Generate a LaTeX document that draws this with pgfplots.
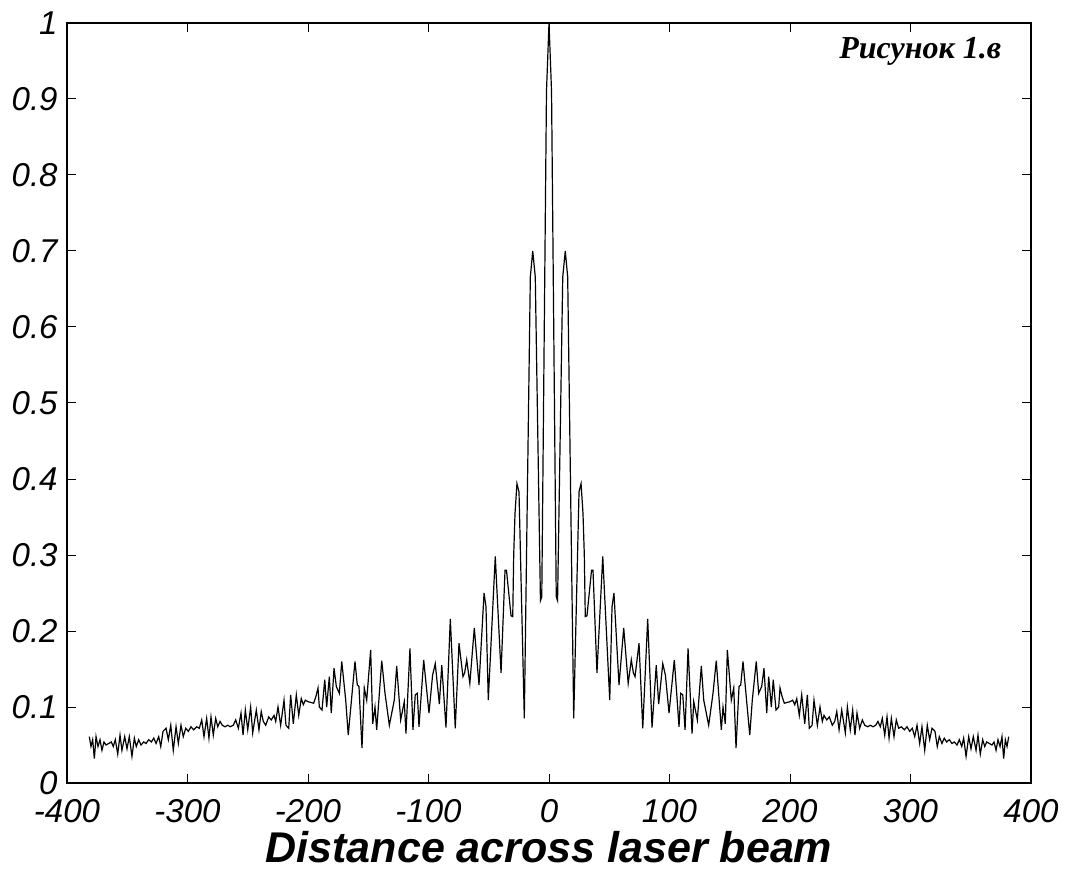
\documentclass[border=0pt]{standalone}
\usepackage{fontspec}
\setmainfont{Liberation Sans}
\newfontfamily\serifbi{Liberation Serif}
\usepackage{pgfplots}
\pgfplotsset{compat=1.18}
\begin{document}
\begin{tikzpicture}
\begin{axis}[
  scale only axis,
  width=482pt, height=380pt,
  xmin=-400, xmax=400, ymin=0, ymax=1,
  xtick={-400,-300,-200,-100,0,100,200,300,400},
  xticklabels={-400,-300,-200,-100,0,100,200,300,400},
  ytick={0,0.1,0.2,0.3,0.4,0.5,0.6,0.7,0.8,0.9,1},
  yticklabels={0,0.1,0.2,0.3,0.4,0.5,0.6,0.7,0.8,0.9,1},
  xtick pos=both, ytick pos=both,
  tick align=inside,
  major tick length=4.5pt,
  every tick/.style={black, line width=0.5pt},
  axis line style={black, line width=1pt},
  tick label style={font=\fontsize{16.5}{19}\selectfont\itshape},
  xticklabel style={inner sep=0pt, anchor=north, yshift=-8pt},
  yticklabel style={inner sep=0pt, anchor=east, xshift=-4.5pt},
  xlabel={Distance across laser beam},
  xlabel style={font=\fontsize{21.5}{26}\selectfont\bfseries\itshape, inner sep=0pt, at={(axis description cs:0.5,0)}, anchor=base, yshift=-39.5pt},
]
\coordinate (bl) at (rel axis cs:0,0);
\coordinate (tr) at (rel axis cs:1,1);
\addplot[black, line width=0.6pt] coordinates {
(-381.5,0.061) (-380.1,0.048) (-378.7,0.057) (-377.3,0.032) (-375.9,0.061) (-374.3,0.048)
(-372.6,0.057) (-371.0,0.043) (-369.3,0.054) (-367.6,0.050) (-365.4,0.052) (-363.2,0.054)
(-361.6,0.048) (-359.9,0.057) (-357.9,0.038) (-356.0,0.063) (-354.4,0.043) (-352.1,0.061)
(-350.2,0.045) (-348.3,0.061) (-346.1,0.035) (-344.1,0.059) (-342.5,0.048) (-340.5,0.057)
(-338.6,0.050) (-336.3,0.054) (-334.4,0.052) (-332.2,0.057) (-330.0,0.054) (-328.0,0.059)
(-326.1,0.052) (-323.9,0.061) (-322.2,0.048) (-320.3,0.068) (-317.8,0.072) (-315.9,0.057)
(-313.9,0.076) (-311.8,0.043) (-309.5,0.074) (-307.6,0.052) (-305.4,0.076) (-303.5,0.061)
(-301.5,0.072) (-299.3,0.068) (-297.1,0.074) (-294.9,0.070) (-292.4,0.074) (-290.2,0.072)
(-288.2,0.083) (-286.3,0.061) (-284.1,0.085) (-282.2,0.059) (-280.5,0.087) (-278.6,0.063)
(-276.6,0.085) (-274.9,0.074) (-273.0,0.081) (-271.1,0.076) (-268.9,0.074) (-266.6,0.076)
(-264.5,0.074) (-262.0,0.076) (-260.0,0.083) (-257.8,0.072) (-255.6,0.092) (-253.9,0.063)
(-252.0,0.096) (-250.0,0.070) (-247.6,0.100) (-245.9,0.066) (-242.9,0.096) (-240.7,0.070)
(-238.8,0.094) (-237.1,0.081) (-235.1,0.076) (-232.6,0.087) (-230.5,0.083) (-228.2,0.089)
(-226.8,0.081) (-224.9,0.100) (-222.7,0.076) (-219.9,0.109) (-218.3,0.076) (-216.0,0.072)
(-214.4,0.116) (-212.2,0.078) (-209.7,0.116) (-207.7,0.089) (-205.6,0.111) (-203.9,0.103)
(-202.2,0.109) (-200.0,0.107) (-195.3,0.105) (-193.4,0.114) (-191.7,0.125) (-190.6,0.100)
(-188.4,0.096) (-186.1,0.136) (-184.5,0.100) (-182.3,0.140) (-180.7,0.092) (-178.4,0.151)
(-176.5,0.127) (-174.0,0.118) (-172.0,0.160) (-168.7,0.109) (-166.6,0.063) (-161.0,0.160)
(-159.1,0.129) (-157.7,0.127) (-155.2,0.046) (-153.3,0.125) (-151.3,0.109) (-148.0,0.175)
(-146.3,0.078) (-144.4,0.100) (-143.0,0.070) (-138.8,0.161) (-136.1,0.118) (-132.5,0.076)
(-128.4,0.109) (-126.4,0.154) (-123.1,0.083) (-120.1,0.107) (-118.7,0.065) (-115.4,0.177)
(-112.9,0.070) (-111.0,0.116) (-109.3,0.118) (-107.9,0.074) (-104.0,0.162) (-99.6,0.092)
(-96.6,0.142) (-94.4,0.157) (-91.0,0.104) (-89.0,0.155) (-85.5,0.073) (-81.9,0.216)
(-77.8,0.072) (-74.7,0.184) (-71.4,0.140) (-70.0,0.145) (-68.3,0.162) (-65.7,0.131)
(-62.0,0.204) (-58.1,0.129) (-53.9,0.250) (-52.3,0.232) (-50.4,0.109) (-44.6,0.298)
(-39.8,0.145) (-36.5,0.280) (-35.3,0.280) (-31.5,0.220) (-30.1,0.219) (-29.3,0.300)
(-28.2,0.355) (-26.6,0.394) (-24.9,0.383) (-20.5,0.085) (-15.5,0.666) (-13.5,0.700)
(-11.4,0.666) (-7.1,0.240) (-6.0,0.245) (-2.1,0.910) (0,1.000)
(2.1,0.910) (6.0,0.245) (7.1,0.240) (11.4,0.666) (13.5,0.700) (15.5,0.666)
(20.5,0.085) (24.9,0.383) (26.6,0.394) (28.2,0.355) (29.3,0.300) (30.1,0.219)
(31.5,0.220) (35.3,0.280) (36.5,0.280) (39.8,0.145) (44.6,0.298) (50.4,0.109)
(52.3,0.232) (53.9,0.250) (58.1,0.129) (62.0,0.204) (65.7,0.131) (68.3,0.162)
(70.0,0.145) (71.4,0.140) (74.7,0.184) (77.8,0.072) (81.9,0.216) (85.5,0.073)
(89.0,0.155) (91.0,0.104) (94.4,0.157) (96.6,0.142) (99.6,0.092) (104.0,0.162)
(107.9,0.074) (109.3,0.118) (111.0,0.116) (112.9,0.070) (115.4,0.177) (118.7,0.065)
(120.1,0.107) (123.1,0.083) (126.4,0.154) (128.4,0.109) (132.5,0.076) (136.1,0.118)
(138.8,0.161) (143.0,0.070) (144.4,0.100) (146.3,0.078) (148.0,0.175) (151.3,0.109)
(153.3,0.125) (155.2,0.046) (157.7,0.127) (159.1,0.129) (161.0,0.160) (166.6,0.063)
(168.7,0.109) (172.0,0.160) (174.0,0.118) (176.5,0.127) (178.4,0.151) (180.7,0.092)
(182.3,0.140) (184.5,0.100) (186.1,0.136) (188.4,0.096) (190.6,0.100) (191.7,0.125)
(193.4,0.114) (195.3,0.105) (200.0,0.107) (202.2,0.109) (203.9,0.103) (205.6,0.111)
(207.7,0.089) (209.7,0.116) (212.2,0.078) (214.4,0.116) (216.0,0.072) (218.3,0.076)
(219.9,0.109) (222.7,0.076) (224.9,0.100) (226.8,0.081) (228.2,0.089) (230.5,0.083)
(232.6,0.087) (235.1,0.076) (237.1,0.081) (238.8,0.094) (240.7,0.070) (242.9,0.096)
(245.9,0.066) (247.6,0.100) (250.0,0.070) (252.0,0.096) (253.9,0.063) (255.6,0.092)
(257.8,0.072) (260.0,0.083) (262.0,0.076) (264.5,0.074) (266.6,0.076) (268.9,0.074)
(271.1,0.076) (273.0,0.081) (274.9,0.074) (276.6,0.085) (278.6,0.063) (280.5,0.087)
(282.2,0.059) (284.1,0.085) (286.3,0.061) (288.2,0.083) (290.2,0.072) (292.4,0.074)
(294.9,0.070) (297.1,0.074) (299.3,0.068) (301.5,0.072) (303.5,0.061) (305.4,0.076)
(307.6,0.052) (309.5,0.074) (311.8,0.043) (313.9,0.076) (315.9,0.057) (317.8,0.072)
(320.3,0.068) (322.2,0.048) (323.9,0.061) (326.1,0.052) (328.0,0.059) (330.0,0.054)
(332.2,0.057) (334.4,0.052) (336.3,0.054) (338.6,0.050) (340.5,0.057) (342.5,0.048)
(344.1,0.059) (346.1,0.035) (348.3,0.061) (350.2,0.045) (352.1,0.061) (354.4,0.043)
(356.0,0.063) (357.9,0.038) (359.9,0.057) (361.6,0.048) (363.2,0.054) (365.4,0.052)
(367.6,0.050) (369.3,0.054) (371.0,0.043) (372.6,0.057) (374.3,0.048) (375.9,0.061)
(377.3,0.032) (378.7,0.057) (380.1,0.048) (381.5,0.061)
};
\node[font=\serifbi\fontsize{16}{19}\selectfont\bfseries\itshape] at (axis cs:308,0.962) {Рисунок 1.в};
\end{axis}
\pgfresetboundingbox
\path[use as bounding box] ([shift={(-33.5pt,-46.5pt)}]bl) rectangle ([shift={(20pt,11.5pt)}]tr);
\end{tikzpicture}
\end{document}
